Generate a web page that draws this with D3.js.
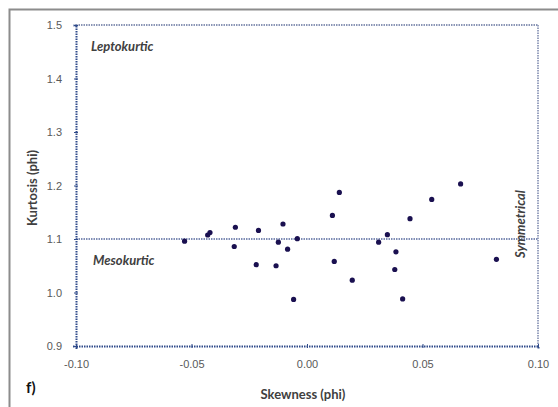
<!DOCTYPE html>
<html>
<head>
<meta charset="utf-8">
<script src="https://cdn.jsdelivr.net/npm/d3@7"></script>
<style>
  body { margin: 0; background: #fff; }
  svg { font-family: Lato, "Liberation Sans", sans-serif; }
  .tick-label { fill: #595959; font-size: 11px; }
</style>
</head>
<body>
<svg id="chart" width="558" height="407"></svg>
<script>
// skewness / kurtosis pairs (phi)
var skewness = [-0.053, -0.043, -0.042, -0.031, -0.0315, -0.021, -0.022, -0.0104, -0.0124, -0.0084,
                -0.0134, -0.0042, -0.0058, 0.014, 0.011, 0.0446, 0.0348, 0.031, 0.0385, 0.0118,
                0.038, 0.0196, 0.0414, 0.0665, 0.054, 0.082];
var kurtosis = [1.096, 1.1075, 1.112, 1.122, 1.086, 1.116, 1.052, 1.128, 1.094, 1.081,
                1.050, 1.1006, 0.987, 1.187, 1.144, 1.138, 1.108, 1.094, 1.076, 1.058,
                1.043, 1.023, 0.988, 1.203, 1.174, 1.062];
var xTicks = [-0.10, -0.05, 0.00, 0.05, 0.10];
var yTicks = [0.9, 1.0, 1.1, 1.2, 1.3, 1.4, 1.5];
var mesoLevel = 1.1;

var svg = d3.select("#chart");
var margin = {top: 25, left: 76},
    width = 462,
    height = 321;

// outer frame
svg.append("rect")
    .attr("x", 9.5).attr("y", 9.5)
    .attr("width", 600).attr("height", 500)
    .attr("fill", "none")
    .attr("stroke", "#8c8c8c")
    .attr("stroke-width", 2);

var g = svg.append("g").attr("transform", "translate(" + margin.left + "," + margin.top + ")");

var x = d3.scaleLinear().domain([-0.1, 0.1]).range([0, width]);
var y = d3.scaleLinear().domain([0.9, 1.5]).range([height, 0]);

// plot edges
function dotted(x1, y1, x2, y2, col) {
    g.append("line")
        .attr("x1", x1).attr("y1", y1).attr("x2", x2).attr("y2", y2)
        .attr("stroke", col)
        .attr("stroke-width", 2)
        .attr("stroke-dasharray", "1.5,1");
}
dotted(0, 0, width, 0, "#8a95b5");
dotted(width, 0, width, height, "#9aa3c0");
dotted(0, y(mesoLevel), width, y(mesoLevel), "#7f8db5");

// axes (plain hyphen for negatives, like the original)
var fmtX = function(d) { return d3.format(".2f")(d).replace("−", "-"); };
var xAxis = g.append("g")
    .attr("transform", "translate(0," + height + ")")
    .call(d3.axisBottom(x).tickValues(xTicks).tickFormat(fmtX).tickSize(3));
var yAxis = g.append("g")
    .call(d3.axisLeft(y).tickValues(yTicks).tickFormat(d3.format(".1f")).tickSize(3));

[xAxis, yAxis].forEach(function(a) {
    a.select(".domain")
        .attr("stroke", "#2f4a8a")
        .attr("stroke-width", 2)
        .attr("stroke-dasharray", "1.5,1");
    a.selectAll(".tick line").attr("stroke", "#2f4a8a").attr("stroke-width", 1);
    a.selectAll(".tick text").attr("class", "tick-label").attr("fill", "#595959");
});
xAxis.selectAll(".tick line").attr("y1", -2).attr("y2", 2);
xAxis.selectAll(".tick text").attr("y", 14);
yAxis.selectAll(".tick line").attr("x1", -2).attr("x2", 2);
yAxis.selectAll(".tick text").attr("x", -14);

// points
var pts = skewness.map(function(s, i) { return [s, kurtosis[i]]; });
g.selectAll("circle.pt")
    .data(pts)
    .enter().append("circle")
    .attr("class", "pt")
    .attr("cx", function(d) { return x(d[0]); })
    .attr("cy", function(d) { return y(d[1]); })
    .attr("r", 2.6)
    .attr("fill", "#1a1050");

// annotations
g.append("text")
    .attr("x", 15).attr("y", 26)
    .attr("font-size", 13).attr("font-style", "italic").attr("font-weight", "bold")
    .attr("fill", "#404040")
    .text("Leptokurtic");
g.append("text")
    .attr("x", 17).attr("y", y(mesoLevel) + 26)
    .attr("font-size", 13).attr("font-style", "italic").attr("font-weight", "bold")
    .attr("fill", "#404040")
    .text("Mesokurtic");
g.append("text")
    .attr("transform", "translate(" + (width - 13) + "," + (y(mesoLevel) + 19) + ") rotate(-90)")
    .attr("font-size", 13).attr("font-style", "italic").attr("font-weight", "bold")
    .attr("fill", "#404040")
    .text("Symmetrical");

// axis titles
svg.append("text")
    .attr("x", margin.left + width / 2 - 4).attr("y", 399)
    .attr("text-anchor", "middle")
    .attr("font-size", 13).attr("font-weight", "bold")
    .attr("fill", "#404040")
    .text("Skewness (phi)");
svg.append("text")
    .attr("transform", "translate(37,188) rotate(-90)")
    .attr("text-anchor", "middle")
    .attr("font-size", 13).attr("font-weight", "bold")
    .attr("fill", "#404040")
    .text("Kurtosis (phi)");

svg.append("text")
    .attr("x", 26).attr("y", 393)
    .attr("font-size", 15).attr("font-weight", "bold")
    .attr("fill", "#111")
    .text("f)");
</script>
</body>
</html>
